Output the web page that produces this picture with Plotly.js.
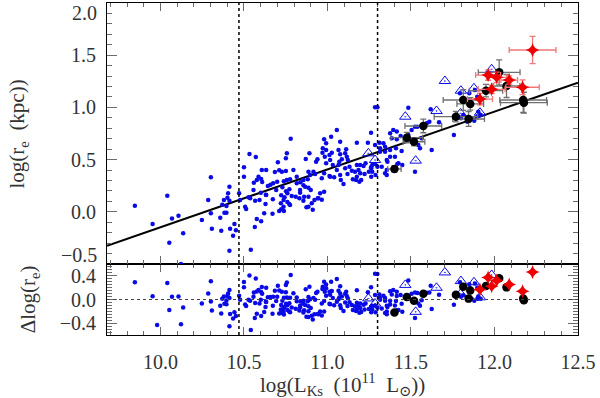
<!DOCTYPE html>
<html>
<head>
<meta charset="utf-8">
<script src="https://cdn.plot.ly/plotly-3.0.1.min.js"></script>
<style>
  body { margin: 0; background: #fff; }
  #plot { width: 600px; height: 398px; }
</style>
</head>
<body>
<div id="plot"></div>
<script>
// galaxies, log L_Ks vs log r_e
const blueX = [
  9.847, 9.953, 9.98, 10.041, 10.053, 10.069, 10.108, 10.123, 10.136, 10.248,
  10.286, 10.302, 10.308, 10.302, 10.358, 10.364, 10.370, 10.380, 10.383, 10.395,
  10.395, 10.401, 10.405, 10.413, 10.417, 10.413, 10.443, 10.452, 10.435, 10.413,
  10.780, 10.533, 10.571, 10.757, 10.751, 10.703, 10.500, 10.892, 10.607, 10.633,
  10.685, 10.711, 10.727, 10.751, 10.500, 10.587, 10.603, 10.577, 10.559, 10.609,
  10.643, 10.659, 10.675, 10.699, 10.739, 10.757, 10.776, 10.816, 10.838, 10.856,
  10.882, 10.886, 10.693, 10.730, 10.752, 10.760, 10.723, 10.772, 10.786, 10.836,
  10.860, 10.557, 10.601, 10.631, 10.527, 10.471, 10.477, 10.507, 10.537, 10.567,
  10.593, 10.629, 10.673, 10.721, 10.737, 10.760, 10.776, 10.810, 10.832, 10.856,
  10.886, 10.886, 10.737, 10.723, 10.513, 10.577, 10.603, 10.565, 10.621, 10.671,
  10.711, 10.739, 10.743, 10.771, 10.633, 10.874, 10.906, 10.912, 10.922, 10.942,
  10.966, 10.541,
  11.285, 11.299, 11.056, 11.261, 10.980, 11.022, 10.992, 11.076, 11.176, 11.242,
  11.311, 11.335, 10.972, 10.992, 10.970, 11.026, 11.012, 10.870, 10.932, 10.940,
  10.984, 10.992, 11.066, 11.076, 11.112, 11.106, 11.116, 11.086, 11.071, 11.122,
  11.016, 11.032, 10.796, 10.886, 10.916, 10.896, 10.926, 10.980, 11.012, 10.966,
  11.056, 11.106, 11.132, 11.146, 11.120, 11.176, 11.186, 11.196, 11.176, 11.152,
  11.202, 11.222, 11.248, 11.262, 11.268, 11.228, 11.315, 11.345, 11.359, 11.375,
  11.425, 11.299, 11.325, 11.262, 11.288, 11.355, 10.856, 10.816, 10.836, 10.866,
  10.900, 11.016, 10.980, 10.956, 10.946, 11.066, 11.040, 11.076, 11.165, 11.196,
  11.216, 11.261, 11.268, 11.285, 11.355, 11.418, 11.080, 11.096, 11.171,
  11.191, 11.285, 11.315, 11.345, 11.375, 11.410, 11.444, 11.554, 11.624, 11.484,
  11.404, 11.448, 11.524, 11.345, 11.544, 11.410,
  11.484, 11.618, 11.668, 11.757, 11.394, 11.375, 11.415, 11.385, 11.415, 11.438,
  11.504, 11.484, 11.524, 11.538, 11.594, 11.610, 11.355, 11.564, 11.813, 11.799,
  11.837, 11.863, 11.879, 11.901, 11.849, 11.883, 11.793, 11.897, 11.917, 11.903,
  11.853
];
const blueY = [
  0.058, -0.117, -0.59, 0.154, -0.296, -0.063, -0.037, -0.50, -0.206, -0.079,
  0.113, -0.015, -0.162, 0.330, -0.056, -0.181, 0.068, 0.113, -0.008, -0.008,
  0.056, 0.135, 0.177, 0.240, -0.162, -0.372, -0.117, -0.177, -0.229, 0.106,
  0.700, 0.554, 0.525, 0.560, 0.512, 0.474, 0.426, 0.560, 0.400, 0.400,
  0.381, 0.397, 0.384, 0.391, 0.336, 0.336, 0.314, 0.305, 0.279, 0.285,
  0.247, 0.260, 0.273, 0.288, 0.292, 0.305, 0.311, 0.336, 0.282, 0.254,
  0.311, 0.231, 0.209, 0.235, 0.196, 0.177, 0.158, 0.216, 0.151, 0.183,
  0.145, 0.209, 0.183, 0.164, 0.139, 0.177, 0.113, 0.049, 0.129, 0.106,
  0.113, 0.075, 0.120, 0.081, 0.113, 0.094, 0.065, 0.145, 0.129, 0.106,
  0.145, 0.049, 0.049, 0.024, 0.027, -0.069, -0.091, -0.146, -0.015, -0.018,
  0.008, 0.008, 0.139, 0.075, 0.161, 0.043, 0.081, 0.020, 0.113, 0.129,
  0.116, -0.363,
  1.001, 1.001, 0.784, 0.758, 0.694, 0.720, 0.656, 0.671, 0.662, 0.662,
  0.662, 0.656, 0.608, 0.592, 0.566, 0.566, 0.544, 0.506, 0.480, 0.503,
  0.528, 0.465, 0.592, 0.551, 0.599, 0.560, 0.528, 0.503, 0.480, 0.496,
  0.496, 0.448, 0.400, 0.384, 0.384, 0.352, 0.362, 0.369, 0.343, 0.321,
  0.400, 0.416, 0.432, 0.394, 0.362, 0.448, 0.400, 0.369, 0.336, 0.311,
  0.305, 0.362, 0.384, 0.416, 0.448, 0.465, 0.576, 0.624, 0.480, 0.528,
  0.465, 0.432, 0.432, 0.336, 0.352, 0.400, 0.305, 0.273, 0.209, 0.240,
  0.209, 0.336, 0.193, 0.177, 0.129, 0.448, 0.330, 0.352, 0.384, 0.448,
  0.439, 0.426, 0.384, 0.458, 0.352, 0.458, 0.305, 0.266, 0.305,
  0.288, 0.640, 0.608, 0.576, 0.592, 0.608, 0.582, 0.608, 0.592, 0.688,
  0.528, 0.448, 0.384, 0.369, 0.640, 0.422,
  0.997, 0.982, 0.857, 0.736, 0.784, 0.752, 0.768, 0.704, 0.694, 0.726,
  0.784, 0.736, 0.815, 0.815, 0.848, 0.863, 0.496, 0.704, 0.927, 0.896,
  0.863, 0.896, 0.873, 0.918, 1.135, 1.167, 1.135, 1.103, 0.927, 0.959,
  1.07
];

// open triangles
const triX = [11.245, 11.285, 11.466, 11.528, 11.653, 11.703, 11.797, 11.799, 11.877, 11.913, 11.983];
const triY = [0.560, 0.496, 0.911, 0.490, 0.966, 1.253, 0.943, 1.160, 1.183, 0.949, 1.365];

// black circles with errors
const blackX = [11.401, 11.475, 11.518, 11.574, 11.769, 11.813, 11.845, 11.855, 11.949, 12.028, 12.072, 12.172, 12.176];
const blackY = [0.410, 0.710, 0.671, 0.822, 0.911, 1.071, 0.889, 1.033, 1.160, 1.336, 1.205, 1.071, 1.045];
const blackXErr = [0.04, 0.095, 0.065, 0.11, 0.13, 0.12, 0.095, 0.08, 0.10, 0.125, 0.08, 0.14, 0.14];
const blackYErr = [0.03, 0.05, 0.04, 0.065, 0.05, 0.10, 0.07, 0.06, 0.06, 0.12, 0.11, 0.12, 0.10];

// red stars with errors
const redX = [12.228, 11.962, 12.013, 12.088, 11.983, 12.168, 11.913];
const redY = [1.550, 1.310, 1.288, 1.262, 1.173, 1.193, 1.080];
const redXErr = [0.14, 0.075, 0.06, 0.05, 0.08, 0.10, 0.075];
const redYErr = [0.13, 0.05, 0.05, 0.04, 0.04, 0.07, 0.055];

// best fit line (end points)
const fitX = [9.68, 12.5];
const fitY = [-0.325, 1.237];

// vertical dotted lines
const cutX = [10.47, 11.30];

const fitAt = (x)=>{
    let t = (x - fitX[0]) / (fitX[1] - fitX[0]);
    return fitY[0] + t*(fitY[1] - fitY[0]);
}
const resid = (xs, ys)=> xs.map((x,i)=> ys[i] - fitAt(x));

const BLUE = '#0a0ae6';
const TICK = '#6a6a6a';
const split = 71/332;

let data = [];
// top panel
data.push({x: fitX, y: fitY, xaxis:'x2', yaxis:'y', mode:'lines', line:{color:'black', width:2}, hoverinfo:'skip'});
data.push({x: blueX, y: blueY, xaxis:'x2', yaxis:'y', mode:'markers', marker:{color:BLUE, size:4.5}});
data.push({x: triX, y: triY, xaxis:'x2', yaxis:'y', mode:'markers',
    marker:{symbol:'triangle-up-open-dot', color:BLUE, size:10, line:{width:1, color:BLUE}}});
data.push({x: blackX, y: blackY, xaxis:'x2', yaxis:'y', mode:'markers',
    marker:{color:'black', size:8.5},
    error_x:{type:'data', array:blackXErr, color:'#707070', thickness:1.3, width:3},
    error_y:{type:'data', array:blackYErr, color:'#707070', thickness:1.3, width:3}});
data.push({x: redX, y: redY, xaxis:'x2', yaxis:'y', mode:'markers',
    marker:{symbol:'star-diamond', color:'#ee0000', size:10},
    error_x:{type:'data', array:redXErr, color:'#f07878', thickness:1.3, width:3},
    error_y:{type:'data', array:redYErr, color:'#f07878', thickness:1.3, width:3}});

// bottom panel, residuals about the fit
data.push({x: blueX, y: resid(blueX, blueY), xaxis:'x', yaxis:'y2', mode:'markers', marker:{color:BLUE, size:4.5}});
data.push({x: triX, y: resid(triX, triY), xaxis:'x', yaxis:'y2', mode:'markers',
    marker:{symbol:'triangle-up-open-dot', color:BLUE, size:10, line:{width:1, color:BLUE}}});
data.push({x: blackX, y: resid(blackX, blackY), xaxis:'x', yaxis:'y2', mode:'markers', marker:{color:'black', size:8.5}});
data.push({x: redX, y: resid(redX, redY), xaxis:'x', yaxis:'y2', mode:'markers',
    marker:{symbol:'star-diamond', color:'#ee0000', size:10}});

const xCommon = {
    range:[9.68, 12.5], tickmode:'linear', tick0:10, dtick:0.5,
    ticks:'inside', ticklen:8, tickcolor:TICK, tickwidth:1,
    minor:{dtick:0.1, tick0:10, ticks:'inside', ticklen:4, tickcolor:TICK},
    showline:true, linecolor:'black', linewidth:1, mirror:'ticks',
    showgrid:false, zeroline:false
};

const layout = {
    width:600, height:398,
    margin:{l:107, r:22, t:3, b:63},
    paper_bgcolor:'white', plot_bgcolor:'white',
    showlegend:false,
    font:{family:'"Liberation Serif", "DejaVu Serif", serif', size:20, color:'#333'},
    xaxis: Object.assign({}, xCommon, {domain:[0,1], anchor:'y2', tickformat:'.1f', ticklabelstandoff:9}),
    xaxis2: Object.assign({}, xCommon, {domain:[0,1], anchor:'y', matches:'x', showticklabels:false}),
    yaxis: {
        domain:[split, 1], anchor:'x2', range:[-0.5, 2.0],
        tickmode:'array', tickvals:[-0.5, 0, 0.5, 1.0, 1.5, 2.0], ticktext:['', '0.0', '0.5', '1.0', '1.5', ''],
        ticks:'inside', ticklen:10, tickcolor:TICK,
        minor:{dtick:0.1, tick0:0, ticks:'inside', ticklen:5, tickcolor:TICK},
        showline:true, linecolor:'black', linewidth:1, mirror:'ticks',
        showgrid:false, zeroline:false, ticklabelstandoff:6
    },
    yaxis2: {
        domain:[0, split], anchor:'x', range:[-0.6, 0.6],
        tickmode:'array', tickvals:[-0.4, 0, 0.4], ticktext:['\u22120.4', '0.0', '0.4'],
        ticks:'inside', ticklen:10, tickcolor:TICK,
        minor:{dtick:0.05, tick0:0, ticks:'inside', ticklen:5, tickcolor:TICK},
        showline:true, linecolor:'black', linewidth:1, mirror:'ticks',
        showgrid:false, zeroline:false, ticklabelstandoff:6
    },
    shapes: [
        {type:'line', xref:'x', yref:'paper', x0:cutX[0], x1:cutX[0], y0:0, y1:1, line:{color:'black', width:1.5, dash:'dot'}},
        {type:'line', xref:'x', yref:'paper', x0:cutX[1], x1:cutX[1], y0:0, y1:1, line:{color:'black', width:1.5, dash:'dot'}},
        {type:'line', xref:'paper', yref:'y2', x0:0, x1:1, y0:0, y1:0, line:{color:'#444', width:1, dash:'dot'}}
    ],
    annotations: [
        {text:'2.0', xref:'paper', yref:'y', x:-0.017, y:2.0, xanchor:'right', yanchor:'middle', yshift:-10, showarrow:false},
        {text:'\u22120.5', xref:'paper', yref:'y', x:-0.017, y:-0.5, xanchor:'right', yanchor:'middle', yshift:9, showarrow:false},
        {text:'log(r<sub>e</sub>\u00a0 (kpc))', xref:'paper', yref:'paper', x:-0.189, y:(1+split)/2,
         textangle:-90, xanchor:'center', yanchor:'middle', showarrow:false, font:{size:21}},
        {text:'\u0394log(r<sub>e</sub>)', xref:'paper', yref:'paper', x:-0.166, y:split/2,
         textangle:-90, xanchor:'center', yanchor:'middle', showarrow:false, font:{size:21}},
        {text:'log(L<sub>Ks</sub>\u00a0 (10<sup>11</sup>\u00a0 L<sub>\u2299</sub>))', xref:'paper', yref:'paper', x:0.5, y:-0.149,
         xanchor:'center', yanchor:'middle', showarrow:false, font:{size:21}}
    ]
};

Plotly.newPlot('plot', data, layout, {staticPlot:true});
</script>
</body>
</html>
